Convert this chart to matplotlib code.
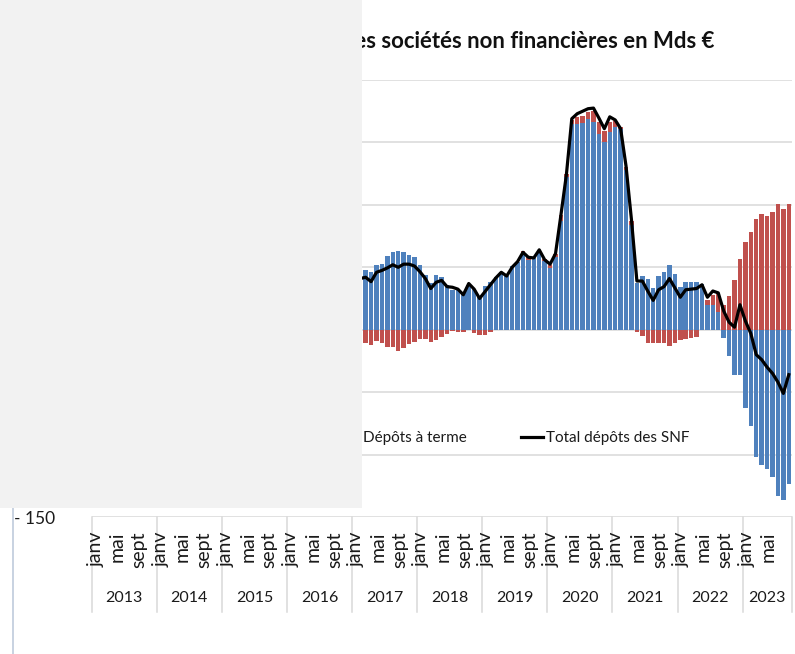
import numpy as np
import matplotlib.pyplot as plt
from matplotlib.patches import Rectangle, Patch
from matplotlib.lines import Line2D

plt.rcParams['font.family'] = ['Lato', 'DejaVu Sans']

# Categories: janv 2013 -> sept 2023
annees = list(range(2013, 2024))
noms_mois = ['janv', 'févr', 'mars', 'avr', 'mai', 'juin', 'juil', 'août', 'sept', 'oct', 'nov', 'déc']
mois_affiches = ['janv', 'mai', 'sept']
nb_mois = 129

# Series (Mds €), from févr 2017 (month index 49) - the left part is hidden by the grey box
premier_mois = 49
depots_vue = [47, 48, 46, 51.5, 53, 59, 62, 63, 62, 59.5, 58,
              52, 44, 37.5, 43.5, 42.5, 36, 32, 31.5, 29.5, 36, 33, 26,
              35, 38.5, 42, 46.5, 43, 51, 54.5, 61, 56, 57.5, 64, 55,
              49.5, 58, 87, 122, 165, 164.5, 165.5, 169, 166.5, 157, 150.5, 158.5,
              162.5, 161, 128, 84, 37.5, 43, 41, 33.5, 43, 46, 51.5, 45,
              34.5, 38, 38, 38, 37, 20, 20, 14.5, -6.5, -21, -36.5, -36.5,
              -63, -77, -102, -108, -111.5, -118, -133, -136, -123.5]
depots_terme = [-10, -10.5, -12.5, -9, -11, -13.5, -14, -17, -14.5, -11.5, -10,
                -7.5, -7.5, -9.5, -8, -6, -3.5, -1, -1.5, -1.5, 0, -3, -4,
                -4, -1.5, 0, 0, 0, 0, 0, 2, 2.5, 0, 0, 1.5,
                2, 3, 4.5, 2.5, 3, 6, 6, 5.5, 9, 9, 9, 8,
                4.5, 1.5, 2, 3, -1.5, -5, -10.5, -11, -11, -11, -13, -11,
                -8, -7.5, -7, -6, 0, 4, 8, 15, 20, 27, 39.5, 57,
                70, 78, 89, 93, 91, 94.5, 100.5, 97, 101]
total_snf = [41, 42, 38.5, 46, 47.5, 49.5, 52, 50, 52.5, 52.5, 51,
             46.5, 41, 33, 38, 39.5, 34.5, 34, 32.5, 28, 37, 32.5, 25,
             30.5, 36, 41.5, 46, 43, 50, 54.5, 62, 58, 57.5, 64, 56,
             52.5, 61, 92, 124, 169, 173, 175, 177, 177.5, 169.5, 161, 170.5,
             168, 161, 131, 88, 39, 39, 31, 23.5, 32, 34.5, 41, 33.5,
             26, 32, 32.5, 33, 36, 26, 31, 29.5, 15, 6, 2, 20,
             7, -3, -20, -24, -30, -35, -42, -51, -36]

bleu = '#4f81bd'
rouge = '#c0504d'
gris = '#d9d9d9'
texte = '#1a1a1a'

W, H = 795, 654
fig = plt.figure(figsize=(W / 100, H / 100), dpi=100)
fig.patch.set_facecolor('white')

x0, x1, y0, y1 = 91.7, 791.5, 80, 517
ax = fig.add_axes([x0 / W, 1 - y1 / H, (x1 - x0) / W, (y1 - y0) / H])

x = np.arange(premier_mois, premier_mois + len(depots_vue)) + 0.5
vue = np.array(depots_vue)
terme = np.array(depots_terme)
# Excel style stacking: same sign -> on top of the blue bar, otherwise from zero
bas_terme = np.where(np.sign(terme) == np.sign(vue), vue, 0)

b1 = ax.bar(x, vue, width=0.82, color=bleu, zorder=2)
b2 = ax.bar(x, terme, bottom=bas_terme, width=0.82, color=rouge, zorder=2)
l1, = ax.plot(x, total_snf, color='black', lw=2.3, zorder=3, solid_joinstyle='round')

ax.set_xlim(0, nb_mois)
ax.set_ylim(-150, 200)
ax.set_yticks(np.arange(-150, 201, 50))
ax.set_yticklabels([(' %d' % v) if v > 0 else ('- %d' % -v if v < 0 else ' -')
                    for v in np.arange(-150, 201, 50)], fontsize=12.5, color=texte)
ax.tick_params(axis='y', length=0, pad=26)
ax.set_xticks([])
ax.grid(axis='y', color=gris, lw=1.1, zorder=0)
for s in ax.spines.values():
    s.set_visible(False)

# Multi-level category axis (last month label is not shown in the original)
tr = ax.get_xaxis_transform()
for i in range(nb_mois - 1):
    m = noms_mois[i % 12]
    if m in mois_affiches:
        ax.text(i + 0.75, -0.033, m, transform=tr, rotation=90, ha='center', va='top',
                fontsize=14, color=texte, clip_on=False)
for k, a in enumerate(annees):
    debut = 12 * k
    fin = min(12 * (k + 1), nb_mois)
    ax.text((debut + fin) / 2, -0.186, str(a), transform=tr, ha='center', va='center',
            fontsize=11.5, color=texte, clip_on=False)
    ax.plot([debut, debut], [0, -0.218], transform=tr, color=gris, lw=1.1, clip_on=False)
ax.plot([nb_mois, nb_mois], [0, -0.218], transform=tr, color=gris, lw=1.1, clip_on=False)

leg = ax.legend([Patch(color=bleu), Patch(color=rouge), l1],
                ['Dépôts à vue', 'Dépôts à terme', 'Total dépôts des SNF'],
                loc='center right', bbox_to_anchor=(690 / W, 1 - 438 / H),
                bbox_transform=fig.transFigure, ncol=3, frameon=False, fontsize=11,
                borderaxespad=0, borderpad=0, handlelength=1.5, handletextpad=0.2,
                columnspacing=3.5)
for t in leg.get_texts():
    t.set_color(texte)

fig.text(715 / W, 1 - 42 / H, 'Flux annuels de dépôts des sociétés non financières en Mds €',
         ha='right', va='center', fontsize=15.9, fontweight='bold', color='#111111')

# grey box covering the left part, and the thin frame line
fig.add_artist(Line2D([13.3 / W, 13.3 / W], [0, 1], color='#bfcbdc', lw=1.2, zorder=50))
fig.add_artist(Rectangle((0, 1 - 508 / H), 362 / W, 508 / H, transform=fig.transFigure,
                         facecolor='#f2f2f2', edgecolor='none', zorder=100))

fig.savefig('out.png', dpi=100)
